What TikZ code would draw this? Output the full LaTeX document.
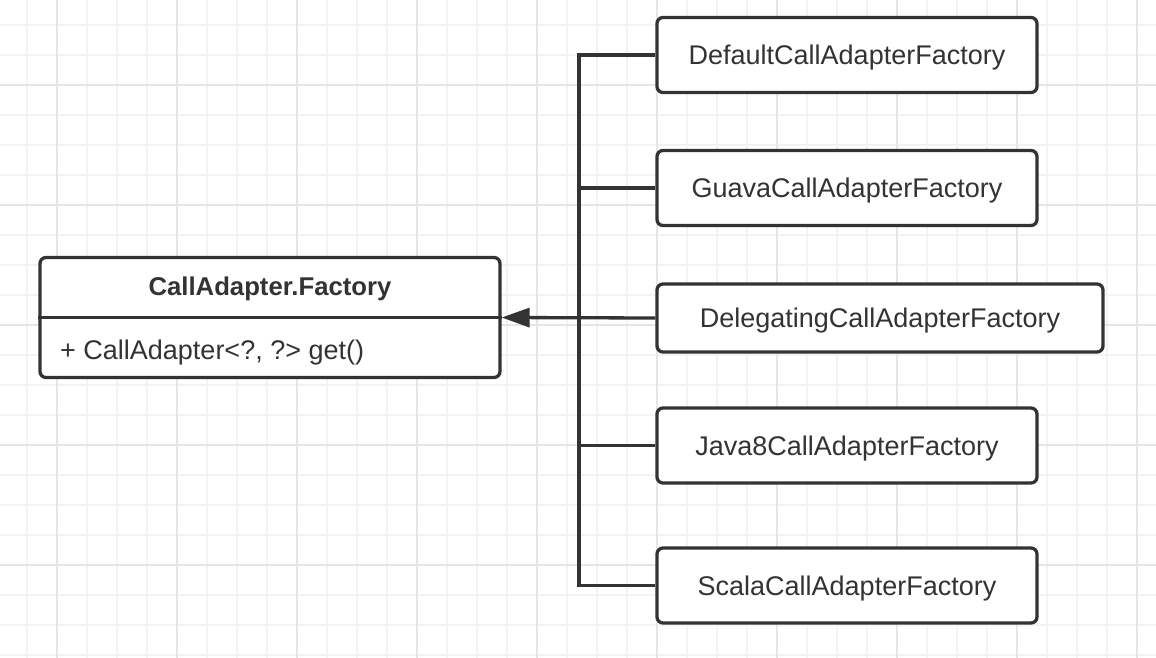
\documentclass[tikz,border=0pt]{standalone}
\usepackage{fontspec}
\setmainfont{Liberation Sans}
\usepackage{tikz}
\usetikzlibrary{arrows.meta, calc}
\definecolor{ink}{HTML}{333333}
\definecolor{gridminor}{HTML}{F3F3F3}
\definecolor{gridmajor}{HTML}{E6E6E6}
\newcommand{\PicW}{1156}
\newcommand{\PicH}{658}
\newcommand{\BusX}{579}

\tikzset{
  classbox/.style={draw=ink, line width=3.3pt, rounded corners=6pt, fill=white,
    minimum width=460pt, minimum height=120pt, inner sep=0pt},
  factory/.style={draw=ink, line width=3.3pt, rounded corners=6pt, fill=white,
    minimum width=380pt, minimum height=75pt, inner sep=0pt, text=ink,
    text depth=0pt, font=\fontsize{27}{32}\selectfont},
  link/.style={draw=ink, line width=3.3pt}
}

\begin{document}
\begin{tikzpicture}[x=1pt, y=-1pt]
            \useasboundingbox (0,0) rectangle (\PicW,\PicH);
            \fill [white] (0,0) rectangle (\PicW,\PicH);

            % background grid
            \foreach \X in {27,57,...,1155}{
            \draw [gridminor, line width=2pt] (\X,0) -- (\X,\PicH);
            }
            \foreach \Y in {25,55,...,655}{
            \draw [gridminor, line width=2pt] (0,\Y) -- (\PicW,\Y);
            }
            \foreach \X in {57,177,...,1155}{
            \draw [gridmajor, line width=2pt] (\X,0) -- (\X,\PicH);
            }
            \foreach \Y in {85,205,...,655}{
            \draw [gridmajor, line width=2pt] (0,\Y) -- (\PicW,\Y);
            }

            % the abstract factory
            \path (270,317.5) node (cls) [classbox] {};
            \draw [link] (cls.west) -- (cls.east);
            \path ($(cls.north)!0.5!(cls.center)$) node (clsname) [text=ink, text depth=0pt, inner sep=0pt]
                {\fontsize{25.7}{30}\selectfont\bfseries CallAdapter.Factory};
            \path (60,353) node (clsget) [anchor=west, inner sep=0pt, text=ink]
                {\fontsize{27}{32}\selectfont + CallAdapter<?, ?> get()};

            % the concrete factories
            \path (847,55)    node (default) [factory] {DefaultCallAdapterFactory};
            \path (847,188)   node (guava)   [factory] {GuavaCallAdapterFactory};
            \path (880,318)   node (deleg)   [factory, minimum width=446pt, minimum height=68pt] {DelegatingCallAdapterFactory};
            \path (847,445.5) node (java)    [factory] {Java8CallAdapterFactory};
            \path (847,585.5) node (scala)   [factory] {ScalaCallAdapterFactory};

            % bus joining the factories
            \coordinate (bus) at (\BusX,0);
            \draw [link] (default.west) -- (default.west -| bus) -- (scala.west -| bus) -- (scala.west);
            \draw [link] (guava.west) -- (guava.west -| bus);
            \draw [link] (java.west) -- (java.west -| bus);

            % inheritance arrow
            \draw [link, -{Triangle[length=28pt, width=19pt]}] (deleg.west) -- (cls.east);

        \end{tikzpicture}
\end{document}
